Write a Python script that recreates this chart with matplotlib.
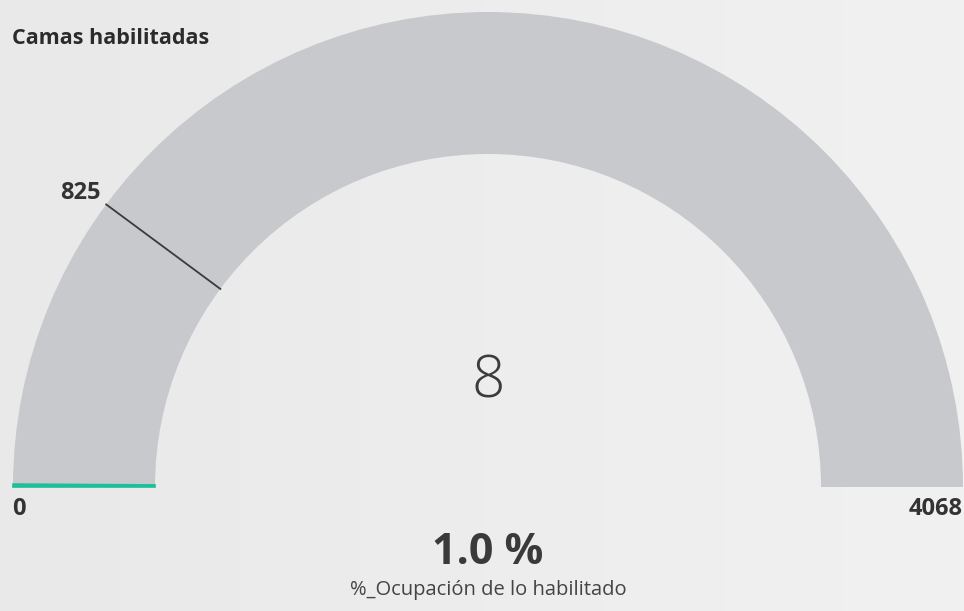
import matplotlib.pyplot as plt
from matplotlib.patches import Wedge
import numpy as np

# gauge data
title = 'Camas habilitadas'
value = 8
target = 825
min_val = 0
max_val = 4068
pct_label = '1.0 %'
pct_caption = '%_Ocupación de lo habilitado'

W, H = 964, 611
fig = plt.figure(figsize=(W / 100, H / 100), dpi=100)
ax = fig.add_axes([0, 0, 1, 1])
ax.set_xlim(0, W)
ax.set_ylim(0, H)
ax.set_aspect('equal')
ax.axis('off')

# soft background
grad = np.linspace(0, 1, 256)[None, :]
ax.imshow(grad, extent=(0, W, 0, H), cmap=plt.matplotlib.colors.LinearSegmentedColormap.from_list(
    'bg', ['#e9e9ea', '#f1f1f1']), aspect='auto', zorder=0)

cx, cy = 488, H - 487
r_out, r_in = 475, 333

def to_angle(v):
    return 180 - 180 * (v - min_val) / (max_val - min_val)

ax.add_patch(Wedge((cx, cy), r_out, 0, 180, width=r_out - r_in,
                   facecolor='#c8c9cc', edgecolor='none', zorder=1))
ax.add_patch(Wedge((cx, cy), r_out, to_angle(value), 180, width=r_out - r_in,
                   facecolor='#1dbf98', edgecolor='#1dbf98', lw=1.2, zorder=2))

t = np.radians(to_angle(target))
x0, y0 = cx + r_out * np.cos(t), cy + r_out * np.sin(t)
ax.plot([cx + r_in * np.cos(t), x0], [cy + r_in * np.sin(t), y0],
        color='#3a3a3a', lw=1.3, zorder=3)

fam = ['Open Sans', 'DejaVu Sans']
dark = '#333333'
ax.text(x0 - 6, y0 + 5, str(target), ha='right', va='baseline', fontsize=17,
        fontweight='bold', color=dark, family=fam)
ax.text(12, H - 497, str(min_val), ha='left', va='top', fontsize=17,
        fontweight='bold', color=dark, family=fam)
ax.text(W - 1, H - 497, str(max_val), ha='right', va='top', fontsize=17,
        fontweight='bold', color=dark, family=fam)

ax.text(cx, H - 382, str(value), ha='center', va='center', fontsize=42,
        fontweight='light', color='#3c3c3c', family=fam)
ax.text(cx, H - 552, pct_label, ha='center', va='center', fontsize=31,
        fontweight='bold', color='#3a3a3a', family=fam)
ax.text(cx, H - 590, pct_caption, ha='center', va='center', fontsize=14.5,
        color='#444444', family=fam)

ax.text(12, H - 38, title, ha='left', va='center', fontsize=15.5,
        fontweight='bold', color='#2b2b2b', family=fam)

fig.savefig('out.png', dpi=100)
